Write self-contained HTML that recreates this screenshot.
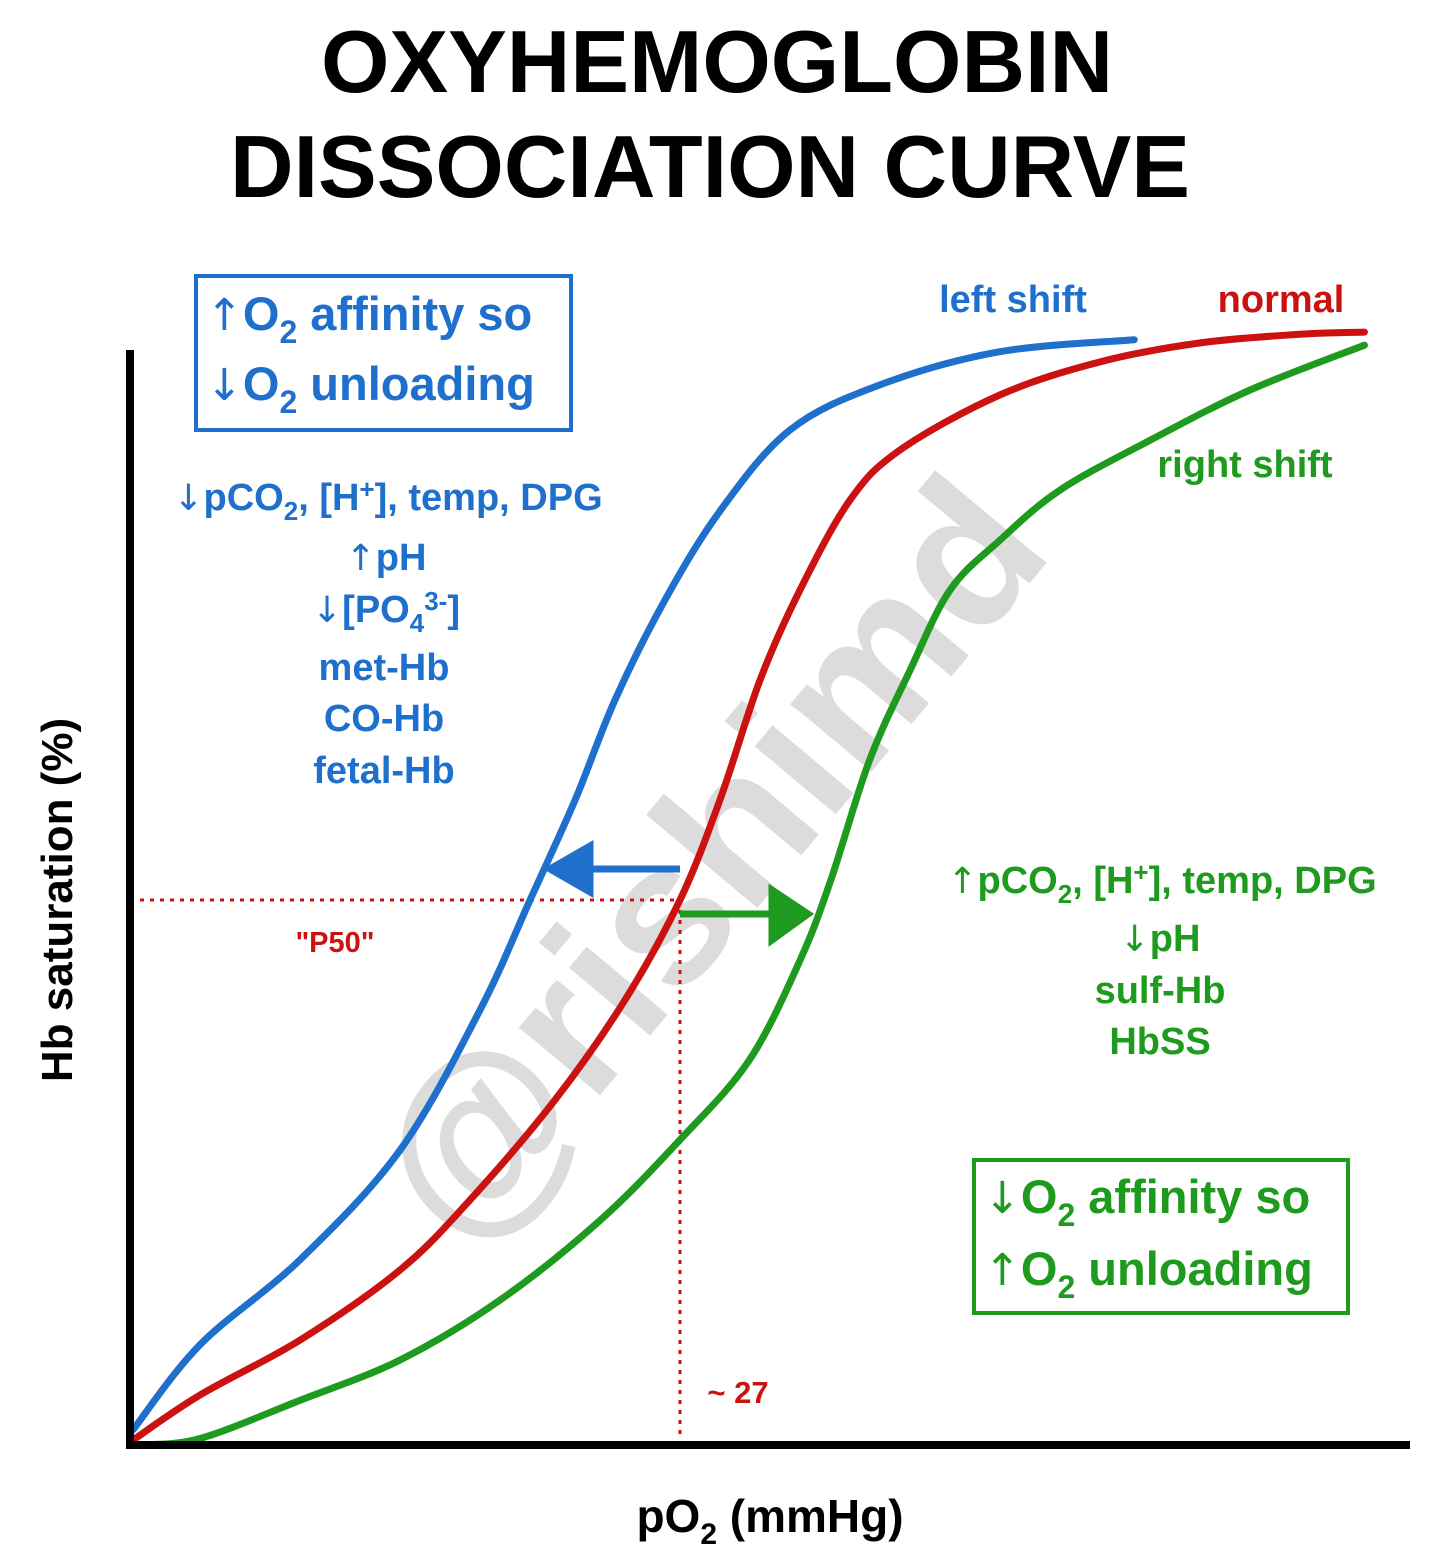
<!DOCTYPE html>
<html><head><meta charset="utf-8"><style>
html,body{margin:0;padding:0;background:#fff;}
svg{display:block;font-family:"Liberation Sans",Arial,sans-serif;font-weight:bold;}
.ar{font-family:"DejaVu Sans",sans-serif;font-weight:normal;}
</style></head><body>
<svg id="c" width="1440" height="1560" viewBox="0 0 1440 1560">
<text x="717" y="92" font-size="88" text-anchor="middle" fill="#000">OXYHEMOGLOBIN</text>
<text x="710" y="197" font-size="88" text-anchor="middle" fill="#000">DISSOCIATION CURVE</text>
<text transform="translate(72,900) rotate(-90)" font-size="44" text-anchor="middle" fill="#000">Hb saturation (%)</text>
<text x="770" y="1532" font-size="46" text-anchor="middle" fill="#000">pO<tspan font-size="30" dy="12">2</tspan><tspan dy="-12"> (mmHg)</tspan></text>
<text transform="translate(720,870) rotate(-50)" font-size="200" text-anchor="middle" dominant-baseline="middle" fill="#dcdcdc">@rishimd</text>
<g id="marks"></g>
<line x1="130" y1="350" x2="130" y2="1449" stroke="#000" stroke-width="8"/>
<line x1="126" y1="1445" x2="1410" y2="1445" stroke="#000" stroke-width="8"/>
<rect x="196" y="276" width="375" height="154" fill="none" stroke="#1f6fcc" stroke-width="4"/>
<g fill="#1f6fcc" font-size="47">
<text x="206" y="330"><tspan class="ar" font-size="44">↑</tspan>O<tspan font-size="32" dy="13">2</tspan><tspan dy="-13"> affinity so</tspan></text>
<text x="206" y="400"><tspan class="ar" font-size="44">↓</tspan>O<tspan font-size="32" dy="13">2</tspan><tspan dy="-13"> unloading</tspan></text>
</g>
<g fill="#1f6fcc" font-size="38" text-anchor="middle">
<text x="388" y="510"><tspan class="ar" font-size="36">↓</tspan>pCO<tspan font-size="26" dy="10">2</tspan><tspan dy="-10">, [H</tspan><tspan font-size="26" dy="-12">+</tspan><tspan dy="12">], temp, DPG</tspan></text>
<text x="386" y="570"><tspan class="ar" font-size="36">↑</tspan>pH</text>
<text x="386" y="622"><tspan class="ar" font-size="36">↓</tspan>[PO<tspan font-size="26" dy="10">4</tspan><tspan font-size="26" dy="-22">3-</tspan><tspan dy="12">]</tspan></text>
<text x="384" y="680">met-Hb</text>
<text x="384" y="731">CO-Hb</text>
<text x="384" y="783">fetal-Hb</text>
</g>
<g fill="#1e9a1e" font-size="38" text-anchor="middle">
<text x="1162" y="893"><tspan class="ar" font-size="36">↑</tspan>pCO<tspan font-size="26" dy="10">2</tspan><tspan dy="-10">, [H</tspan><tspan font-size="26" dy="-12">+</tspan><tspan dy="12">], temp, DPG</tspan></text>
<text x="1160" y="951"><tspan class="ar" font-size="36">↓</tspan>pH</text>
<text x="1160" y="1003">sulf-Hb</text>
<text x="1160" y="1054">HbSS</text>
</g>
<rect x="974" y="1160" width="374" height="153" fill="none" stroke="#1e9a1e" stroke-width="4"/>
<g fill="#1e9a1e" font-size="47">
<text x="984" y="1213"><tspan class="ar" font-size="44">↓</tspan>O<tspan font-size="32" dy="13">2</tspan><tspan dy="-13"> affinity so</tspan></text>
<text x="984" y="1285"><tspan class="ar" font-size="44">↑</tspan>O<tspan font-size="32" dy="13">2</tspan><tspan dy="-13"> unloading</tspan></text>
</g>
<text x="1013" y="312" font-size="38" text-anchor="middle" fill="#1f6fcc">left shift</text>
<text x="1281" y="312" font-size="38" text-anchor="middle" fill="#cc1111">normal</text>
<text x="1245" y="477" font-size="38" text-anchor="middle" fill="#1e9a1e">right shift</text>
<text x="335" y="952" font-size="29" text-anchor="middle" fill="#cc1111">"P50"</text>
<text x="738" y="1403" font-size="31" text-anchor="middle" fill="#cc1111">~ 27</text>
</svg>
<script>
const normalP = [0.15,3.44,8.35,13.26,16.69,20.86,24.3,27.0,28.96,30.93,32.89,35.35,37.8,42.7,47.6,52.5,57.4,60.6];
const normalS = [0.46,4.59,9.63,16.06,22.48,31.65,40.83,50.0,59.17,70.18,78.44,86.7,91.28,96.33,99.36,101.1,101.9,102.1];
const leftP = [0.15,3.44,8.35,13.26,17.18,19.64,21.85,23.81,26.26,29.0,32.4,36.8,42.7,49.3];
const leftS = [1.4,9.2,17.0,27.06,39.9,50,59.17,68.35,77.52,85.78,93.12,97.25,100.3,101.4];
const rightP = [0.5,3.44,8.35,13.26,18.17,23.07,27.0,30.4,32.9,34.4,36.3,38.3,40.26,42.7,45.65,50.1,55.0,60.6];
const rightS = [0,0.6,4.1,7.8,13.3,20.6,28.0,35.3,44.5,51.8,62.8,71.1,78.44,83.0,87.6,92.2,96.8,100.9];
const p50 = [27];
const p50Sat = [50];
function xs(p){return 130 + p*20.37;}
function ys(s){return 1445 - s*10.9;}
const NS='http://www.w3.org/2000/svg';
const g=document.getElementById('marks');
function path(P,S){
  const pts=P.map((p,i)=>[xs(p),ys(S[i])]);
  let d='M'+pts[0][0]+','+pts[0][1];
  for(let i=0;i<pts.length-1;i++){
    const p0=pts[Math.max(0,i-1)],p1=pts[i],p2=pts[i+1],p3=pts[Math.min(pts.length-1,i+2)];
    d+=' C'+(p1[0]+(p2[0]-p0[0])/6)+','+(p1[1]+(p2[1]-p0[1])/6)+' '+(p2[0]-(p3[0]-p1[0])/6)+','+(p2[1]-(p3[1]-p1[1])/6)+' '+p2[0]+','+p2[1];
  }
  return d;
}
function addCurve(P,S,color,name){
  const e=document.createElementNS(NS,'path');
  e.setAttribute('d',path(P,S));e.setAttribute('fill','none');
  e.setAttribute('stroke',color);e.setAttribute('stroke-width','7');e.setAttribute('stroke-linecap','round');
  
  
  g.appendChild(e);
}
const px=xs(p50[0]),py=ys(p50Sat[0]);
const h=document.createElementNS(NS,'line');
h.setAttribute('x1',140);h.setAttribute('y1',py);h.setAttribute('x2',px);h.setAttribute('y2',py);
h.setAttribute('stroke','#cc1111');h.setAttribute('stroke-width','3');h.setAttribute('stroke-dasharray','4,6');


g.appendChild(h);
const v=document.createElementNS(NS,'line');
v.setAttribute('x1',px);v.setAttribute('y1',py);v.setAttribute('x2',px);v.setAttribute('y2',1440);
v.setAttribute('stroke','#cc1111');v.setAttribute('stroke-width','3');v.setAttribute('stroke-dasharray','4,6');


g.appendChild(v);
addCurve(rightP,rightS,'#1e9a1e','right-shift-curve');
addCurve(normalP,normalS,'#cc1111','normal-curve');
addCurve(leftP,leftS,'#1f6fcc','left-shift-curve');
const a1=document.createElementNS(NS,'path');
a1.setAttribute('d','M'+px+','+(py-31)+' L590,'+(py-31)+' M590,'+(py-54)+' L550,'+(py-31)+' L590,'+(py-8)+' Z');
a1.setAttribute('stroke','#1f6fcc');a1.setAttribute('stroke-width','7');a1.setAttribute('fill','#1f6fcc');


g.appendChild(a1);
const a2=document.createElementNS(NS,'path');
a2.setAttribute('d','M'+px+','+(py+14)+' L772,'+(py+14)+' M772,'+(py-10)+' L808,'+(py+14)+' L772,'+(py+40)+' Z');
a2.setAttribute('stroke','#1e9a1e');a2.setAttribute('stroke-width','7');a2.setAttribute('fill','#1e9a1e');


g.appendChild(a2);
</script>
</body></html>
